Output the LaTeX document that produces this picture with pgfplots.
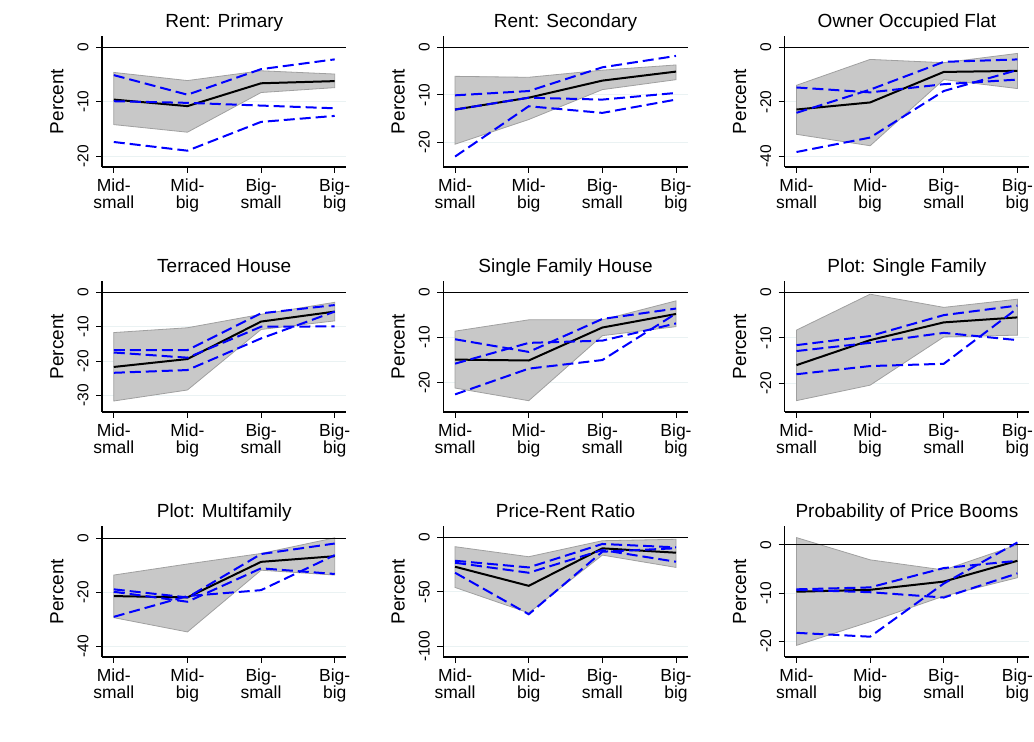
\documentclass[border=0pt]{standalone}
\usepackage{fontspec}
\setmainfont{Liberation Sans}
\usepackage{pgfplots}
\pgfplotsset{compat=1.18}
\definecolor{gridc}{RGB}{234,242,243}
\definecolor{bandf}{RGB}{200,200,200}
\definecolor{bande}{RGB}{160,160,160}
\pgfplotsset{
  panel/.style={
    scale only axis, width=244.5pt, height=131pt,
    xmin=-0.16, xmax=3.16,
    axis x line*=bottom, axis y line*=left,
    axis line style={line width=1.1pt, black, -},
    xtick={0,1,2,3},
    xticklabels={{Mid-\\small},{Mid-\\big},{Big-\\small},{Big-\\big}},
    xticklabel style={align=center, yshift=-2.5pt, font=\fontsize{17.5}{16.5}\selectfont},
    tick align=outside, major tick length=6pt,
    tick style={black, line width=1pt},
    yticklabel style={xshift=-4pt, rotate=90, anchor=south, font=\fontsize{15.5}{16}\selectfont},
    ymajorgrids, grid style={color=gridc, line width=1pt},
    ylabel={Percent},
    every axis y label/.style={at={(axis description cs:0,0.5)}, xshift=-38.7pt, rotate=90, anchor=base, font=\fontsize{19}{20}\selectfont},
    every axis title/.style={at={(0.5,1)}, anchor=base, yshift=8.7pt, font=\fontsize{19}{20}\selectfont},
    clip=false,
  },
  band/.style={fill=bandf, draw=bande, line width=0.8pt},
  est/.style={black, line width=2pt},
  alt/.style={blue, line width=2pt, dash pattern=on 11pt off 5pt},
  zero/.style={black, line width=1.2pt},
}
\begin{document}
\begin{tikzpicture}
\path[use as bounding box] (0,0) rectangle (1034pt,742pt);
% ---------- Row 1 ----------
\begin{axis}[panel, at={(102pt,575pt)}, anchor=south west, title={Rent: Primary},
  ymin=-22, ymax=2.1, ytick={-20,-10,0}, yticklabels={-20,-10,0}]
\addplot[band] coordinates {(0,-4.6)(1,-6.1)(2,-4.3)(3,-4.9)(3,-7.4)(2,-8.3)(1,-15.6)(0,-14.2)} --cycle;
\addplot[zero] coordinates {(-0.16,0)(3.16,0)};
\addplot[est] coordinates {(0,-9.6)(1,-10.8)(2,-6.6)(3,-6.2)};
\addplot[alt] coordinates {(0,-5.1)(1,-8.7)(2,-4.0)(3,-2.2)};
\addplot[alt] coordinates {(0,-9.9)(1,-10.2)(2,-10.7)(3,-11.2)};
\addplot[alt] coordinates {(0,-17.4)(1,-19.0)(2,-13.7)(3,-12.6)};
\end{axis}
\begin{axis}[panel, at={(443.3pt,575pt)}, anchor=south west, title={Rent: Secondary},
  ymin=-25.2, ymax=2.4, ytick={-20,-10,0}, yticklabels={-20,-10,0}]
\addplot[band] coordinates {(0,-6.1)(1,-6.3)(2,-4.8)(3,-3.7)(3,-6.8)(2,-8.9)(1,-15.2)(0,-20.4)} --cycle;
\addplot[zero] coordinates {(-0.16,0)(3.16,0)};
\addplot[est] coordinates {(0,-13.1)(1,-10.6)(2,-7.0)(3,-5.1)};
\addplot[alt] coordinates {(0,-10.1)(1,-9.2)(2,-4.2)(3,-1.8)};
\addplot[alt] coordinates {(0,-13.1)(1,-10.6)(2,-11.0)(3,-9.6)};
\addplot[alt] coordinates {(0,-23.0)(1,-12.4)(2,-13.8)(3,-11.0)};
\end{axis}
\begin{axis}[panel, at={(784.7pt,575pt)}, anchor=south west, title={Owner Occupied Flat},
  ymin=-43.9, ymax=4.2, ytick={-40,-20,0}, yticklabels={-40,-20,0}]
\addplot[band] coordinates {(0,-13.9)(1,-4.4)(2,-5.6)(3,-2.2)(3,-15.1)(2,-11.8)(1,-36.1)(0,-31.9)} --cycle;
\addplot[zero] coordinates {(-0.16,0)(3.16,0)};
\addplot[est] coordinates {(0,-22.8)(1,-20.2)(2,-9.0)(3,-8.6)};
\addplot[alt] coordinates {(0,-14.7)(1,-16.5)(2,-13.5)(3,-11.8)};
\addplot[alt] coordinates {(0,-24.0)(1,-15.5)(2,-5.3)(3,-4.4)};
\addplot[alt] coordinates {(0,-38.4)(1,-33.1)(2,-16.0)(3,-8.3)};
\end{axis}
% ---------- Row 2 ----------
\begin{axis}[panel, at={(102pt,330pt)}, anchor=south west, title={Terraced House},
  ymin=-34.8, ymax=3.3, ytick={-30,-20,-10,0}, yticklabels={-30,-20,-10,0}]
\addplot[band] coordinates {(0,-11.7)(1,-10.3)(2,-6.4)(3,-2.9)(3,-8.3)(2,-10.8)(1,-28.4)(0,-31.6)} --cycle;
\addplot[zero] coordinates {(-0.16,0)(3.16,0)};
\addplot[est] coordinates {(0,-21.7)(1,-19.4)(2,-8.5)(3,-5.6)};
\addplot[alt] coordinates {(0,-16.8)(1,-16.8)(2,-6.1)(3,-3.7)};
\addplot[alt] coordinates {(0,-17.5)(1,-19.0)(2,-10.0)(3,-9.9)};
\addplot[alt] coordinates {(0,-23.4)(1,-22.6)(2,-13.4)(3,-5.6)};
\end{axis}
\begin{axis}[panel, at={(443.3pt,330pt)}, anchor=south west, title={Single Family House},
  ymin=-26.5, ymax=2.5, ytick={-20,-10,0}, yticklabels={-20,-10,0}]
\addplot[band] coordinates {(0,-8.6)(1,-6.1)(2,-6.1)(3,-1.9)(3,-7.6)(2,-9.6)(1,-24.0)(0,-21.2)} --cycle;
\addplot[zero] coordinates {(-0.16,0)(3.16,0)};
\addplot[est] coordinates {(0,-14.9)(1,-15.1)(2,-7.8)(3,-4.8)};
\addplot[alt] coordinates {(0,-10.4)(1,-13.2)(2,-5.9)(3,-3.6)};
\addplot[alt] coordinates {(0,-15.8)(1,-11.2)(2,-10.7)(3,-6.9)};
\addplot[alt] coordinates {(0,-22.6)(1,-16.9)(2,-15.0)(3,-4.7)};
\end{axis}
\begin{axis}[panel, at={(784.7pt,330pt)}, anchor=south west, title={Plot: Single Family},
  ymin=-26.3, ymax=2.5, ytick={-20,-10,0}, yticklabels={-20,-10,0}]
\addplot[band] coordinates {(0,-8.3)(1,-0.4)(2,-3.3)(3,-1.5)(3,-9.4)(2,-9.8)(1,-20.4)(0,-23.8)} --cycle;
\addplot[zero] coordinates {(-0.16,0)(3.16,0)};
\addplot[est] coordinates {(0,-16.0)(1,-10.5)(2,-6.6)(3,-5.5)};
\addplot[alt] coordinates {(0,-11.6)(1,-9.6)(2,-5.0)(3,-2.9)};
\addplot[alt] coordinates {(0,-12.9)(1,-11.1)(2,-8.9)(3,-10.5)};
\addplot[alt] coordinates {(0,-18.0)(1,-16.2)(2,-15.7)(3,-3.5)};
\end{axis}
% ---------- Row 3 ----------
\begin{axis}[panel, at={(102pt,85pt)}, anchor=south west, title={Plot: Multifamily},
  ymin=-44.0, ymax=4.6, ytick={-40,-20,0}, yticklabels={-40,-20,0}]
\addplot[band] coordinates {(0,-13.6)(1,-9.5)(2,-5.6)(3,0.2)(3,-13.6)(2,-11.8)(1,-34.7)(0,-29.4)} --cycle;
\addplot[zero] coordinates {(-0.16,0)(3.16,0)};
\addplot[est] coordinates {(0,-21.4)(1,-21.9)(2,-8.7)(3,-6.6)};
\addplot[alt] coordinates {(0,-18.9)(1,-21.9)(2,-5.8)(3,-1.9)};
\addplot[alt] coordinates {(0,-19.8)(1,-23.5)(2,-11.1)(3,-13.2)};
\addplot[alt] coordinates {(0,-29.1)(1,-21.4)(2,-19.2)(3,-6.2)};
\end{axis}
\begin{axis}[panel, at={(443.3pt,85pt)}, anchor=south west, title={Price-Rent Ratio},
  ymin=-109.8, ymax=10.4, ytick={-100,-50,0}, yticklabels={-100,-50,0}]
\addplot[band] coordinates {(0,-8.6)(1,-17.8)(2,-3.1)(3,-1.8)(3,-27.6)(2,-16.3)(1,-69.3)(0,-46.0)} --cycle;
\addplot[zero] coordinates {(-0.16,0)(3.16,0)};
\addplot[est] coordinates {(0,-27.0)(1,-44.5)(2,-10.1)(3,-14.1)};
\addplot[alt] coordinates {(0,-21.5)(1,-27.6)(2,-6.1)(3,-9.2)};
\addplot[alt] coordinates {(0,-23.3)(1,-32.5)(2,-11.7)(3,-22.4)};
\addplot[alt] coordinates {(0,-32.5)(1,-70.6)(2,-13.2)(3,-10.0)};
\end{axis}
\begin{axis}[panel, at={(784.7pt,85pt)}, anchor=south west, title={Probability of Price Booms},
  ymin=-23.2, ymax=3.9, ytick={-20,-10,0}, yticklabels={-20,-10,0}]
\addplot[band] coordinates {(0,1.5)(1,-3.1)(2,-5.2)(3,0)(3,-6.8)(2,-10.6)(1,-15.9)(0,-20.8)} --cycle;
\addplot[zero] coordinates {(-0.16,0)(3.16,0)};
\addplot[est] coordinates {(0,-9.7)(1,-9.3)(2,-7.6)(3,-3.3)};
\addplot[alt] coordinates {(0,-9.2)(1,-8.8)(2,-4.8)(3,-3.3)};
\addplot[alt] coordinates {(0,-9.3)(1,-9.8)(2,-10.9)(3,-5.9)};
\addplot[alt] coordinates {(0,-18.2)(1,-19.0)(2,-8.0)(3,0.5)};
\end{axis}
\end{tikzpicture}
\end{document}
